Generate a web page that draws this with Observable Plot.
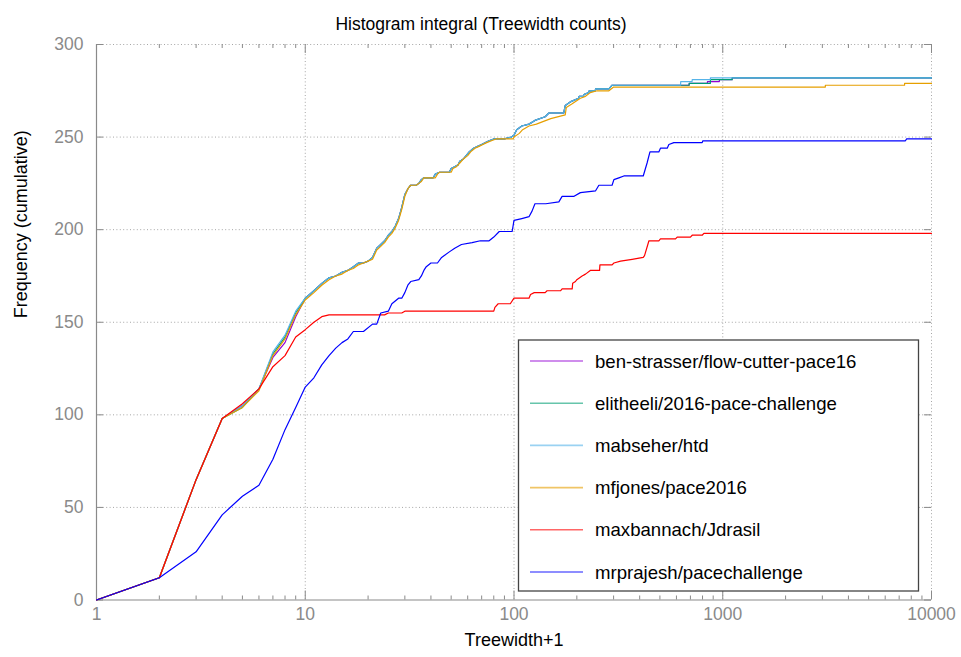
<!DOCTYPE html>
<html>
<head>
<meta charset="utf-8">
<script src="https://cdn.jsdelivr.net/npm/d3@7"></script>
<script src="https://cdn.jsdelivr.net/npm/@observablehq/plot@0.6"></script>
<style>
  html, body { margin: 0; padding: 0; background: #fff; }
  #chart svg { display: block; }
</style>
</head>
<body>
<div id="chart"></div>
<script>
// ---------- data ----------
const titleText = "Histogram integral (Treewidth counts)";
const xLabel = "Treewidth+1";
const yLabel = "Frequency (cumulative)";

const seriesNames = [
  "ben-strasser/flow-cutter-pace16",
  "elitheeli/2016-pace-challenge",
  "mabseher/htd",
  "mfjones/pace2016",
  "maxbannach/Jdrasil",
  "mrprajesh/pacechallenge"
];
const seriesColors = ["#9400d3", "#009e73", "#56b4e9", "#e69f00", "#ff0000", "#0000ff"];

const xTicks = [1, 10, 100, 1000, 10000];
const yTicks = [0, 50, 100, 150, 200, 250, 300];

// [treewidth+1, cumulative count]
const startShared = [[1, 0], [2, 12], [3, 65], [4, 98]];

const midShared = [
  [10, 163], [11, 167], [12, 171], [13, 174], [14, 175], [15, 177], [16, 178], [17, 180],
  [18, 182], [19, 182], [20, 183], [21, 185], [22, 190], [23, 192], [24, 194], [25, 197],
  [26, 199], [27, 202], [28, 206], [29, 212], [30, 219], [31, 222], [32, 224], [34, 224],
  [35, 225], [36, 227], [37, 228], [41, 228], [42, 230], [44, 231], [49, 231], [50, 233],
  [52, 234], [54, 235], [55, 237], [57, 238], [59, 240], [61, 242], [64, 244], [67, 245],
  [70, 246], [73, 247], [76, 248], [80, 249], [90, 249], [97, 250], [100, 251], [103, 254],
  [109, 256], [118, 257], [126, 259], [141, 261], [147, 263], [173, 263], [176, 267],
  [186, 269], [204, 271], [205, 272], [215, 272], [216, 273], [228, 274], [229, 275],
  [245, 275], [246, 276], [285, 276], [295, 278]
];

const benLow  = [[5, 105], [6, 114], [7, 131], [8, 139], [9, 153]];
const benTail = [[690, 278], [691, 279], [844, 279], [845, 280], [963, 280], [964, 281], [1109, 281], [1110, 282], [10000, 282]];

const eliLow  = [[5, 104], [6, 114], [7, 133], [8, 142], [9, 155]];
const eliTail = [[690, 278], [691, 279], [872, 279], [873, 281], [1109, 281], [1110, 282], [10000, 282]];

const mabLow  = [[5, 105], [6, 114], [7, 134], [8, 143], [9, 156]];
const mabTail = [[628, 278], [629, 280], [713, 280], [714, 281], [872, 281], [873, 282], [10000, 282]];

const mfjPoints = [
  [5, 104], [6, 113], [7, 132], [8, 141], [9, 154], [10, 162], [11, 166], [12, 170], [13, 173],
  [14, 175], [15, 176], [16, 178], [17, 179], [18, 181], [19, 182], [20, 183], [21, 184],
  [22, 189], [23, 191], [24, 193], [25, 196], [26, 198], [27, 201], [28, 205], [29, 211],
  [30, 218], [31, 222], [32, 224], [34, 224], [35, 225], [36, 226], [37, 228], [42, 228],
  [43, 230], [44, 231], [50, 231], [51, 233], [53, 234], [55, 236], [57, 238], [60, 240],
  [62, 242], [65, 244], [68, 245], [71, 246], [74, 247], [78, 248], [82, 249], [99, 249],
  [100, 250], [106, 252], [110, 254], [118, 256], [128, 257], [150, 260], [176, 262],
  [178, 266], [190, 268], [208, 271], [220, 272], [232, 274], [250, 275], [285, 275],
  [300, 277], [3100, 277], [3101, 278], [7430, 278], [7431, 279], [10000, 279]
];

const maxPoints = [
  [5, 106], [6, 114], [7, 126], [8, 132], [9, 142], [10, 146], [11, 150], [12, 153], [13, 154],
  [24, 154], [25, 155], [29, 155], [30, 156], [80, 156], [81, 158], [84, 160], [96, 160],
  [100, 163], [118, 163], [120, 165], [125, 166], [141, 166], [144, 167], [167, 167],
  [170, 168], [190, 168], [191, 171], [197, 172], [200, 173], [212, 175], [220, 176],
  [232, 178], [257, 178], [258, 181], [295, 181], [301, 182], [324, 183], [368, 184],
  [416, 185], [422, 186], [443, 194], [494, 194], [503, 195], [594, 195], [605, 196],
  [700, 196], [714, 197], [797, 197], [812, 198], [10000, 198]
];

const mrpPoints = [
  [1, 0], [2, 12], [3, 26], [4, 46], [5, 56], [6, 62], [7, 76], [8, 92], [9, 104], [10, 115],
  [11, 120], [12, 127], [13, 132], [14, 136], [15, 139], [16, 141], [17, 145], [19, 145],
  [21, 149], [22, 149], [23, 155], [25, 156], [26, 160], [28, 163], [29, 163], [30, 166],
  [31, 170], [32, 172], [35, 173], [36, 175], [37, 178], [38, 180], [40, 182], [43, 182],
  [45, 185], [49, 188], [52, 190], [56, 192], [63, 193], [69, 194], [76, 194], [80, 196],
  [85, 199], [98, 199], [100, 205], [109, 206], [118, 207], [122, 210], [126, 214],
  [142, 214], [164, 215], [170, 218], [194, 218], [208, 220], [246, 221], [255, 224],
  [295, 224], [301, 227], [318, 228], [336, 229], [416, 229], [434, 236], [448, 242],
  [494, 242], [503, 244], [542, 244], [552, 246], [583, 247], [797, 247], [803, 248],
  [7500, 248], [7600, 249], [10000, 249]
];

const seriesPoints = [
  [...startShared, ...benLow, ...midShared, ...benTail],
  [...startShared, ...eliLow, ...midShared, ...eliTail],
  [...startShared, ...mabLow, ...midShared, ...mabTail],
  [...startShared, ...mfjPoints],
  [...startShared, ...maxPoints],
  mrpPoints
];

const rows = [];
seriesPoints.forEach((pts, i) => pts.forEach(([x, y]) => rows.push({series: seriesNames[i], x, y})));

// ---------- layout ----------
const W = 961, H = 657;
const mL = 96, mR = 30, mT = 44, mB = 57.5;
const frameW = W - mL - mR, frameH = H - mT - mB;
const axisGray = "#8a8a8a";
const gridGray = "#a6a6a6";
const font = "'Liberation Sans', Arial, Helvetica, sans-serif";

const minorX = d3.scaleLog().domain([1, 10000]).ticks().filter(v => !xTicks.includes(v));

const chart = Plot.plot({
  width: W, height: H,
  marginLeft: mL, marginRight: mR, marginTop: mT, marginBottom: mB,
  style: {fontFamily: font, background: "#fff", overflow: "visible"},
  x: {type: "log", domain: [1, 10000], axis: null},
  y: {domain: [0, 300], axis: null},
  color: {domain: seriesNames, range: seriesColors},
  marks: [
    // grid
    Plot.ruleX(xTicks.slice(1), {stroke: gridGray, strokeWidth: 1, strokeDasharray: "1,2.4"}),
    Plot.ruleY(yTicks.slice(1), {stroke: gridGray, strokeWidth: 1, strokeDasharray: "1,2.4"}),
    // minor x ticks (bottom and top, inward)
    Plot.ruleX(minorX, {stroke: axisGray, insetTop: frameH - 4}),
    Plot.ruleX(minorX, {stroke: axisGray, insetBottom: frameH - 4}),
    // major x ticks
    Plot.ruleX(xTicks, {stroke: axisGray, insetTop: frameH - 9}),
    Plot.ruleX(xTicks, {stroke: axisGray, insetBottom: frameH - 9}),
    // major y ticks (left and right, inward)
    Plot.ruleY(yTicks, {stroke: axisGray, insetRight: frameW - 7}),
    Plot.ruleY(yTicks, {stroke: axisGray, insetLeft: frameW - 7}),
    // border left + bottom
    Plot.ruleX([1], {stroke: axisGray, strokeWidth: 1.2}),
    Plot.ruleY([0], {stroke: axisGray, strokeWidth: 1.2}),
    // data
    Plot.line(rows, {x: "x", y: "y", z: "series", stroke: "series", strokeWidth: 1.2}),
    // tick labels
    Plot.text(xTicks, {x: d => d, text: d => String(d), frameAnchor: "bottom", dy: 20,
      fill: axisGray, fontSize: 17.5, textAnchor: "middle"}),
    Plot.text(yTicks, {y: d => d, text: d => String(d), frameAnchor: "left", dx: -13,
      fill: axisGray, fontSize: 17.5, textAnchor: "end"}),
    // axis labels and title
    Plot.text([xLabel], {text: d => d, frameAnchor: "bottom", dy: 46, fontSize: 18, fill: "#000"}),
    Plot.text([yLabel], {text: d => d, frameAnchor: "left", dx: -75, dy: -4, rotate: -90, fontSize: 18, fill: "#000"}),
    Plot.text([titleText], {text: d => d, frameAnchor: "top", dx: -33, dy: -27, fontSize: 17.5, fill: "#000"})
  ]
});

// ---------- legend (drawn in pixel space inside the chart) ----------
const svg = d3.select(chart.tagName.toLowerCase() === "svg" ? chart : chart.querySelector("svg"));
const lg = svg.append("g").attr("class", "legend").attr("text-anchor", "start");
lg.append("rect")
  .attr("x", 518.5).attr("y", 340).attr("width", 400).attr("height", 251)
  .attr("fill", "#fff").attr("stroke", "#444").attr("stroke-width", 1.3);
seriesNames.forEach((name, i) => {
  const yy = 361 + i * 42.2;
  lg.append("line")
    .attr("x1", 530).attr("x2", 583).attr("y1", yy).attr("y2", yy)
    .attr("stroke", seriesColors[i]).attr("stroke-width", 1.6).attr("stroke-opacity", 0.6);
  lg.append("text")
    .attr("x", 595).attr("y", yy).attr("dy", "0.35em")
    .attr("text-anchor", "start")
    .attr("font-family", font).attr("font-size", 18.6).attr("fill", "#000")
    .text(name);
});

document.getElementById("chart").appendChild(chart);
</script>
</body>
</html>
